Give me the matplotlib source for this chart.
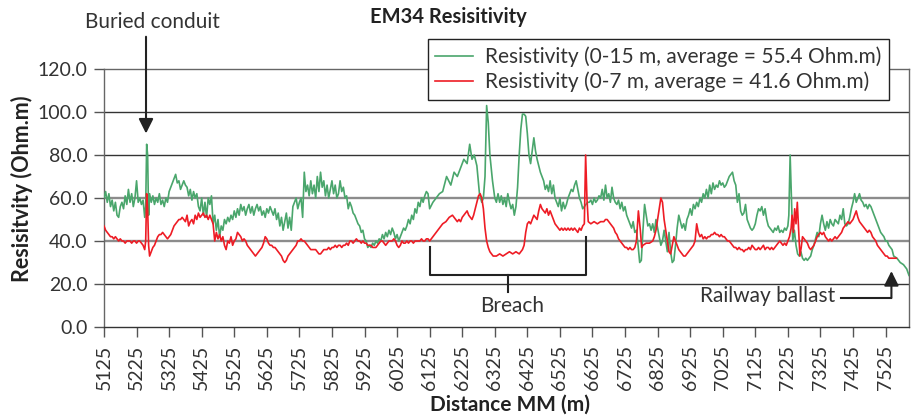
import matplotlib
matplotlib.use("Agg")
import matplotlib.pyplot as plt

plt.rcParams['font.family'] = ['Lato', 'DejaVu Sans']

# ---------------- data ----------------
dist_15 = [5125,5130,5135,5140,5145,5150,5155,5160,5165,5170,5175,5180,5185,5190,5195,5200,5205,5210,5215,5220,
           5225,5230,5235,5240,5245,5250,5253,5256,5259,5262,5265,5270,5275,5280,5285,5290,5295,5300,5305,5310,
           5315,5320,5325,5330,5335,5340,5345,5350,5355,5360,5365,5370,5375,5380,5385,5390,5395,5400,5405,5410,
           5415,5420,5425,5430,5435,5440,5445,5450,5455,5460,5465,5470,5475,5480,5485,5490,5495,5500,5505,5510,
           5515,5520,5525,5530,5535,5540,5545,5550,5555,5560,5565,5570,5575,5580,5585,5590,5595,5600,5605,5610,
           5615,5620,5625,5630,5635,5640,5645,5650,5655,5660,5665,5670,5675,5680,5685,5690,5695,5700,5705,5710,
           5715,5720,5725,5730,5735,5740,5745,5750,5755,5760,5765,5770,5775,5780,5785,5790,5795,5800,5805,5810,
           5815,5820,5825,5830,5835,5840,5845,5850,5855,5860,5865,5870,5875,5880,5885,5890,5895,5900,5905,5910,
           5915,5920,5925,5930,5935,5940,5945,5950,5955,5960,5965,5970,5975,5980,5985,5990,5995,6000,6005,6010,
           6015,6020,6025,6030,6035,6040,6045,6050,6055,6060,6065,6070,6075,6080,6085,6090,6095,6100,6105,6110,
           6115,6120,6125,6135,6145,6155,6165,6177,6190,6200,6210,6220,6230,6240,6248,6255,6262,6270,6278,6285,
           6290,6295,6300,6305,6310,6318,6325,6330,6335,6340,6345,6350,6355,6360,6365,6370,6375,6380,6385,6390,
           6395,6400,6405,6410,6415,6420,6425,6430,6435,6440,6445,6450,6455,6460,6465,6470,6475,6480,6485,6490,
           6495,6500,6505,6510,6515,6520,6525,6530,6535,6540,6545,6550,6555,6560,6565,6570,6575,6580,6585,6590,
           6595,6600,6605,6610,6615,6620,6625,6630,6635,6640,6645,6650,6655,6660,6665,6670,6675,6680,6685,6690,
           6695,6700,6705,6710,6715,6720,6725,6730,6735,6740,6745,6750,6755,6760,6765,6770,6775,6780,6785,6790,
           6795,6800,6805,6810,6815,6820,6825,6830,6835,6840,6845,6850,6855,6860,6865,6870,6875,6880,6885,6890,
           6895,6900,6905,6910,6915,6920,6925,6930,6935,6940,6945,6950,6955,6960,6965,6970,6975,6980,6985,6990,
           6995,7000,7005,7010,7015,7020,7025,7030,7035,7040,7045,7050,7055,7060,7065,7070,7075,7080,7085,7090,
           7095,7100,7105,7110,7115,7120,7125,7130,7135,7140,7145,7150,7155,7160,7165,7170,7175,7180,7185,7190,
           7195,7200,7205,7210,7215,7220,7225,7228,7232,7236,7240,7245,7250,7255,7260,7265,7270,7275,7280,7285,
           7290,7295,7300,7305,7310,7315,7320,7325,7330,7335,7340,7345,7350,7355,7360,7365,7370,7375,7380,7385,
           7390,7395,7400,7405,7410,7415,7420,7425,7430,7435,7440,7445,7450,7455,7460,7465,7470,7475,7480,7485,
           7490,7495,7500,7505,7510,7515,7520,7525,7530,7535,7540,7545,7550,7560,7570,7580,7590,7597]
res_15 = [60,63,58,62,56,59,54,58,52,51,56,58,55,61,57,64,58,62,56,60,
          68,58,60,57,59,51,56,85,80,52,62,58,61,57,60,58,62,57,59,56,
          60,58,63,65,67,69,71,67,68,64,66,68,66,65,61,64,59,63,60,62,
          56,54,60,52,58,51,60,57,61,48,52,45,50,42,47,45,50,48,51,49,
          52,50,54,51,55,52,57,54,56,52,55,57,53,56,52,55,57,54,56,52,
          54,51,55,53,56,54,52,55,50,53,47,51,45,49,53,46,51,45,56,58,
          60,55,58,60,51,72,63,66,61,68,62,66,60,70,63,72,65,68,61,66,
          60,64,68,62,66,60,62,68,63,65,60,61,55,58,56,53,52,50,48,47,
          44,45,41,40,37,38,37,39,38,40,39,41,40,43,41,44,42,45,43,46,
          44,41,43,40,42,44,46,45,47,50,48,52,50,55,53,58,56,60,58,61,
          63,62,55,58,60,62,63,70,66,72,70,74,78,76,85,78,80,75,62,58,
          60,70,103,95,80,68,60,58,62,58,61,57,60,56,62,58,55,57,52,56,
          65,80,92,99,99,98,90,80,76,82,88,82,78,75,72,70,68,64,66,63,
          68,62,66,60,58,56,60,54,58,55,57,60,62,64,63,66,68,64,60,58,
          55,56,57,58,58,59,57,60,58,59,61,60,64,59,66,60,62,58,65,60,
          58,57,59,55,58,54,56,52,50,48,46,49,44,45,38,30,31,45,57,52,
          47,48,45,48,44,50,46,42,38,40,45,40,35,44,35,30,31,38,46,52,
          49,46,48,45,50,52,55,52,57,55,58,56,60,58,62,60,64,60,66,62,
          67,64,66,65,68,66,67,65,66,68,70,71,72,68,66,58,62,54,52,53,
          57,50,48,46,45,46,48,52,55,54,56,52,55,50,47,46,45,44,46,45,
          47,44,45,44,46,45,47,52,80,60,40,45,38,34,33,35,32,31,32,31,
          32,33,36,38,41,44,42,48,52,48,45,49,46,50,48,47,50,49,48,52,
          50,55,48,47,48,51,55,58,62,58,60,62,59,58,56,57,55,57,56,54,
          52,50,48,46,44,43,42,40,40,38,37,36,33,32,30,29,27,24]

dist_7 = [5125,5130,5135,5140,5145,5150,5155,5160,5165,5170,5175,5180,5185,5190,5195,5200,5205,5210,5215,5220,
          5225,5230,5235,5240,5245,5250,5253,5256,5259,5262,5265,5270,5275,5280,5285,5290,5295,5300,5305,5310,
          5315,5320,5325,5330,5335,5340,5345,5350,5355,5360,5365,5370,5375,5380,5385,5390,5395,5400,5405,5410,
          5415,5420,5425,5430,5435,5440,5445,5450,5455,5460,5465,5470,5475,5480,5485,5490,5495,5500,5505,5510,
          5515,5520,5525,5530,5535,5540,5545,5550,5555,5560,5565,5570,5575,5580,5585,5590,5595,5600,5605,5610,
          5615,5620,5625,5630,5635,5640,5645,5650,5655,5660,5665,5670,5675,5680,5685,5690,5695,5700,5705,5710,
          5715,5720,5725,5730,5735,5740,5745,5750,5755,5760,5765,5770,5775,5780,5785,5790,5795,5800,5805,5810,
          5815,5820,5825,5830,5835,5840,5845,5850,5855,5860,5865,5870,5875,5880,5885,5890,5895,5900,5905,5910,
          5915,5920,5925,5930,5935,5940,5945,5950,5955,5960,5965,5970,5975,5980,5985,5990,5995,6000,6005,6010,
          6015,6020,6025,6030,6035,6040,6045,6050,6055,6060,6065,6070,6075,6080,6085,6090,6095,6100,6105,6110,
          6115,6120,6125,6135,6145,6155,6165,6175,6185,6195,6200,6205,6210,6215,6220,6225,6230,6235,6240,6245,
          6250,6255,6260,6265,6270,6275,6280,6285,6290,6295,6300,6305,6310,6315,6320,6330,6340,6350,6360,6370,
          6380,6390,6400,6405,6410,6415,6420,6425,6430,6435,6440,6445,6450,6455,6460,6465,6470,6475,6480,6485,
          6490,6495,6500,6505,6510,6515,6520,6525,6530,6535,6540,6545,6550,6555,6560,6565,6570,6575,6580,6585,
          6590,6595,6600,6604,6608,6612,6620,6630,6640,6650,6660,6665,6670,6675,6680,6685,6690,6695,6700,6705,
          6710,6715,6720,6725,6730,6735,6740,6745,6750,6755,6760,6766,6772,6776,6780,6790,6800,6810,6815,6820,
          6825,6830,6835,6840,6845,6850,6855,6860,6865,6870,6875,6880,6885,6890,6895,6900,6905,6910,6915,6920,
          6925,6930,6935,6940,6945,6950,6955,6960,6965,6970,6975,6980,6985,6990,6995,7000,7005,7010,7015,7020,
          7025,7030,7035,7040,7045,7050,7055,7060,7065,7070,7075,7080,7085,7090,7095,7100,7105,7110,7115,7120,
          7125,7130,7135,7140,7145,7150,7155,7160,7165,7170,7175,7180,7185,7190,7195,7200,7205,7210,7215,7220,
          7225,7230,7235,7238,7242,7246,7250,7254,7258,7262,7266,7270,7275,7280,7285,7290,7295,7300,7305,7310,
          7315,7320,7325,7330,7335,7340,7345,7350,7355,7360,7365,7370,7375,7380,7385,7390,7395,7400,7405,7410,
          7415,7420,7425,7430,7435,7440,7445,7450,7455,7460,7465,7470,7475,7480,7485,7490,7495,7500,7505,7510,
          7515,7520,7525,7530,7535,7540,7545,7550,7558]
res_7 = [47,45,44,43,42,42,41,42,41,40,41,40,40,39,40,40,40,39,40,40,
         39,40,40,39,38,36,40,62,55,38,33,35,37,38,40,42,43,43,44,43,
         42,41,42,43,45,47,48,49,50,50,51,50,49,52,47,49,50,48,52,50,
         53,51,52,53,51,52,50,52,50,48,40,44,41,43,40,42,38,36,40,39,
         42,38,40,41,44,43,42,40,41,40,38,37,36,35,34,33,34,35,36,37,
         39,42,41,39,38,38,37,37,36,35,34,33,31,30,31,33,34,35,36,37,
         38,40,40,41,40,40,39,38,37,36,36,36,36,35,34,34,35,36,36,36,
         37,36,37,37,38,37,38,38,37,38,38,39,38,40,40,39,40,41,40,40,
         39,40,39,39,38,38,38,37,37,37,38,39,40,40,39,38,39,40,40,40,
         41,40,38,37,38,40,39,39,40,39,40,40,39,40,40,40,40,41,40,40,
         41,41,40,42,44,46,48,49,51,52,51,50,49,50,49,51,52,53,54,52,
         51,50,52,55,58,61,62,60,55,46,40,37,35,34,33,33,34,33,34,35,
         34,35,34,35,36,38,44,48,49,48,50,52,51,50,54,57,55,54,53,55,
         52,54,52,50,48,47,46,45,46,45,46,45,46,45,46,45,46,45,44,46,
         45,47,48,80,60,49,48,49,48,49,49,50,50,49,48,47,46,44,43,41,
         40,39,38,37,37,36,37,36,36,37,40,54,45,37,38,39,39,40,42,45,
         50,55,60,58,50,45,40,35,34,38,42,40,38,36,35,34,33,33,34,35,
         36,37,38,40,48,44,42,43,41,42,41,42,42,43,43,44,43,43,42,43,
         42,42,41,40,40,39,38,37,37,36,37,36,36,35,36,36,37,36,38,37,
         36,36,37,36,37,38,36,37,37,36,37,36,37,38,39,40,39,38,39,38,
         40,42,46,52,44,55,48,58,45,33,37,42,41,40,39,37,36,37,38,40,
         42,43,44,43,44,42,41,40,41,40,41,42,41,42,43,44,46,47,48,49,
         48,49,50,52,54,51,49,48,47,46,45,44,45,44,42,41,40,38,37,36,
         35,34,33,33,32,32,32,32,32]

x_ticks = list(range(5125, 7526, 100))
y_ticks = [0, 20, 40, 60, 80, 100, 120]

label_15 = "Resistivity (0-15 m, average = 55.4 Ohm.m)"
label_7 = "Resistivity (0-7 m, average = 41.6 Ohm.m)"

# ---------------- figure ----------------
W, H = 911, 417
fig = plt.figure(figsize=(W / 100, H / 100), dpi=100)
ax = fig.add_axes([104 / W, 1 - 327 / H, (909 - 104) / W, (327 - 69) / H])

txt = '#333333'
green = '#4aa66c'
red = '#ee1c25'

ax.set_xlim(5125, 7597)
ax.set_ylim(0, 120)

for yv in [20, 40, 60, 80, 100]:
    if yv in (40, 60):
        ax.axhline(yv, color='#8c8c8c', lw=1.7, zorder=1)
    else:
        ax.axhline(yv, color='#333333', lw=1.0, zorder=1)

l1, = ax.plot(dist_15, res_15, color=green, lw=1.2, zorder=3, label=label_15)
l2, = ax.plot(dist_7, res_7, color=red, lw=1.2, zorder=4, label=label_7)

for s in ['left', 'top', 'right']:
    ax.spines[s].set_color('#666666')
    ax.spines[s].set_linewidth(1.0)
ax.spines['bottom'].set_color('#333333')
ax.spines['bottom'].set_linewidth(1.0)

ax.set_xticks(x_ticks)
ax.set_xticklabels([str(v) for v in x_ticks], rotation=90)
ax.set_yticks(y_ticks)
ax.set_yticklabels([f"{v:.1f}" for v in y_ticks])
ax.tick_params(axis='both', direction='out', length=7, width=1.0, color='#555555',
               labelcolor=txt, labelsize=14, pad=5)
ax.tick_params(axis='x', pad=6)

fig.text(448 / W, 1 - 17 / H, "EM34 Resisitivity", ha='center', va='center',
         fontsize=14.5, fontweight='bold', color='#222222')
fig.text(22 / W, 1 - 189 / H, "Resisitvity (Ohm.m)", ha='center', va='center',
         rotation=90, fontsize=15.5, fontweight='bold', color='#222222')
fig.text(510 / W, 1 - 405 / H, "Distance MM (m)", ha='center', va='center',
         fontsize=15, fontweight='bold', color='#222222')

leg = fig.legend(handles=[l1, l2], loc='upper right', bbox_to_anchor=(889 / W, 1 - 39 / H),
                 fontsize=15, frameon=True, fancybox=False, framealpha=1, edgecolor='#222222',
                 handlelength=1.8, handletextpad=0.6, labelspacing=0.22, borderpad=0.36,
                 borderaxespad=0)
leg.get_frame().set_linewidth(1.0)
for t in leg.get_texts():
    t.set_color(txt)

# annotations
acol = '#222222'
fig.text(152 / W, 1 - 22 / H, "Buried conduit", ha='center', va='center', fontsize=15, color=txt)
ax.annotate("", xy=(5254, 90), xytext=(5254, 135), xycoords='data', annotation_clip=False,
            arrowprops=dict(arrowstyle='-|>', color=acol, lw=1.5, mutation_scale=22,
                            shrinkA=0, shrinkB=0))

ax.plot([6125, 6125, 6604, 6604], [37.2, 24.2, 24.2, 41.9], color=acol, lw=1.5,
        zorder=5, clip_on=False)
ax.plot([6365, 6365], [24.2, 16.3], color=acol, lw=1.5, zorder=5, clip_on=False)
ax.text(6377, 9.8, "Breach", ha='center', va='center', fontsize=15, color=txt)

ax.text(7372, 14.4, "Railway ballast", ha='right', va='center', fontsize=15, color=txt)
ax.plot([7389, 7543], [13.5, 13.5], color=acol, lw=1.5, zorder=5)
ax.annotate("", xy=(7543, 26), xytext=(7543, 13.5), xycoords='data', annotation_clip=False,
            arrowprops=dict(arrowstyle='-|>', color=acol, lw=1.5, mutation_scale=22,
                            shrinkA=0, shrinkB=0))

fig.savefig("out.png", dpi=100)
